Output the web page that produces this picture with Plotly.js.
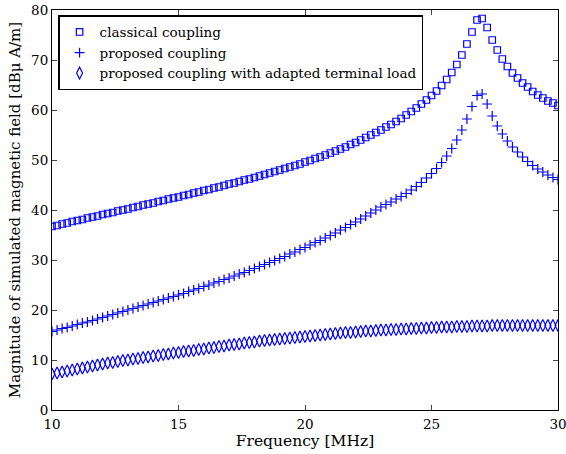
<!DOCTYPE html>
<html>
<head>
<meta charset="utf-8">
<script src="https://cdn.plot.ly/plotly-3.0.1.min.js"></script>
<style>html,body{margin:0;padding:0;background:#fff;}#chart{width:566px;height:454px;}</style>
</head>
<body>
<div id="chart"></div>
<script>
var seriesNames = ["classical coupling", "proposed coupling", "proposed coupling with adapted terminal load"];

var frequency = [
10.0,10.2,10.4,10.6,10.8,11.0,11.2,11.4,11.6,11.8,
12.0,12.2,12.4,12.6,12.8,13.0,13.2,13.4,13.6,13.8,
14.0,14.2,14.4,14.6,14.8,15.0,15.2,15.4,15.6,15.8,
16.0,16.2,16.4,16.6,16.8,17.0,17.2,17.4,17.6,17.8,
18.0,18.2,18.4,18.6,18.8,19.0,19.2,19.4,19.6,19.8,
20.0,20.2,20.4,20.6,20.8,21.0,21.2,21.4,21.6,21.8,
22.0,22.2,22.4,22.6,22.8,23.0,23.2,23.4,23.6,23.8,
24.0,24.2,24.4,24.6,24.8,25.0,25.2,25.4,25.6,25.8,
26.0,26.2,26.4,26.6,26.8,27.0,27.2,27.4,27.6,27.8,
28.0,28.2,28.4,28.6,28.8,29.0,29.2,29.4,29.6,29.8,30.0];

var classical = [
36.7,36.9,37.2,37.4,37.7,37.9,38.1,38.4,38.6,38.8,
39.1,39.3,39.5,39.8,40.0,40.2,40.5,40.7,41.0,41.2,
41.4,41.7,41.9,42.2,42.4,42.6,42.9,43.1,43.4,43.6,
43.9,44.1,44.4,44.6,44.9,45.2,45.4,45.7,46.0,46.2,
46.5,46.8,47.1,47.4,47.7,48.0,48.3,48.6,48.9,49.2,
49.6,49.9,50.3,50.6,51.0,51.4,51.8,52.2,52.6,53.1,
53.5,54.0,54.5,55.0,55.5,56.0,56.6,57.1,57.7,58.3,
59.0,59.7,60.4,61.2,62.0,62.9,63.8,64.9,66.1,67.5,
69.1,71.0,73.2,75.6,78.0,78.3,76.5,74.0,72.0,70.2,
68.7,67.4,66.4,65.4,64.6,63.7,63.0,62.4,61.8,61.4,60.9];

var proposed = [
15.7,16.0,16.3,16.5,16.8,17.1,17.4,17.6,17.9,18.2,
18.5,18.8,19.1,19.4,19.7,20.0,20.3,20.6,20.9,21.2,
21.5,21.8,22.1,22.4,22.7,23.0,23.3,23.7,24.0,24.3,
24.7,25.0,25.4,25.7,26.1,26.4,26.8,27.2,27.5,27.9,
28.3,28.7,29.1,29.5,29.9,30.3,30.7,31.2,31.6,32.1,
32.5,33.0,33.5,33.9,34.4,34.9,35.4,36.0,36.5,37.1,
37.6,38.2,38.8,39.4,40.0,40.6,41.1,41.6,42.2,42.7,
43.3,44.0,44.7,45.5,46.4,47.3,48.3,49.5,50.8,52.3,
54.0,56.0,58.2,60.7,62.9,63.2,61.2,58.8,56.8,55.2,
53.8,52.6,51.6,50.6,49.7,48.9,48.2,47.6,47.0,46.5,46.1];

var adapted = [
7.2,7.4,7.6,7.8,8.0,8.2,8.4,8.6,8.8,9.0,
9.2,9.4,9.5,9.7,9.9,10.0,10.2,10.3,10.5,10.6,
10.8,10.9,11.1,11.2,11.4,11.5,11.7,11.8,11.9,12.1,
12.2,12.4,12.5,12.7,12.8,13.0,13.1,13.2,13.4,13.5,
13.6,13.8,13.9,14.0,14.1,14.2,14.3,14.4,14.5,14.6,
14.7,14.8,14.9,15.0,15.1,15.2,15.3,15.4,15.5,15.5,
15.6,15.7,15.8,15.8,15.9,16.0,16.0,16.1,16.1,16.2,
16.2,16.3,16.3,16.4,16.4,16.5,16.5,16.6,16.6,16.6,
16.7,16.7,16.7,16.8,16.8,16.8,16.8,16.9,16.9,16.9,
16.9,16.9,16.9,16.9,16.9,16.9,16.9,16.9,16.9,16.9,16.9];

var xTicks = [10, 15, 20, 25, 30];
var yTicks = [0, 10, 20, 30, 40, 50, 60, 70, 80];

var blue = "#0000ff";
var traces = [
  {x: frequency, y: classical, name: seriesNames[0], type: "scatter", mode: "markers",
   marker: {symbol: "square-open", size: 6.5, color: blue, line: {width: 1.2, color: blue}}},
  {x: frequency, y: proposed, name: seriesNames[1], type: "scatter", mode: "markers",
   marker: {symbol: "cross-thin-open", size: 7, color: blue, line: {width: 1.2, color: blue}}},
  {x: frequency, y: adapted, name: seriesNames[2], type: "scatter", mode: "markers",
   marker: {symbol: "diamond-tall-open", size: 8.5, color: blue, line: {width: 1.2, color: blue}}}
];

var fontFam = "DejaVu Serif";
var layout = {
  width: 566, height: 454,
  margin: {l: 52, r: 8, t: 10, b: 44},
  paper_bgcolor: "#fff", plot_bgcolor: "#fff",
  font: {family: fontFam, size: 14, color: "#000"},
  showlegend: true,
  legend: {x: 0.012, y: 0.987, xanchor: "left", yanchor: "top",
           bordercolor: "#000", borderwidth: 1.5, bgcolor: "#fff",
           font: {family: fontFam, size: 13.5, color: "#000"},
           tracegroupgap: 0},
  xaxis: {range: [10, 30], tickvals: xTicks, ticktext: xTicks.map(String),
          ticks: "inside", ticklen: 5, tickcolor: "#444", showgrid: false, zeroline: false,
          showline: true, linecolor: "#000", linewidth: 1, mirror: "ticks",
          ticklabeloverflow: "allow", ticklabelstandoff: 2,
          tickfont: {family: fontFam, size: 13.5},
          title: {text: "Frequency [MHz]", font: {family: fontFam, size: 15.5}, standoff: 2}},
  yaxis: {range: [0, 80], tickvals: yTicks, ticktext: yTicks.map(String),
          ticks: "inside", ticklen: 5, tickcolor: "#444", showgrid: false, zeroline: false,
          showline: true, linecolor: "#000", linewidth: 1, mirror: "ticks",
          ticklabeloverflow: "allow",
          tickfont: {family: fontFam, size: 13.5},
          title: {text: "Magnitude of simulated magnetic field [dBμ A/m]", font: {family: fontFam, size: 15}, standoff: 6}}
};

Plotly.newPlot("chart", traces, layout, {displayModeBar: false, staticPlot: true});
</script>
</body>
</html>
